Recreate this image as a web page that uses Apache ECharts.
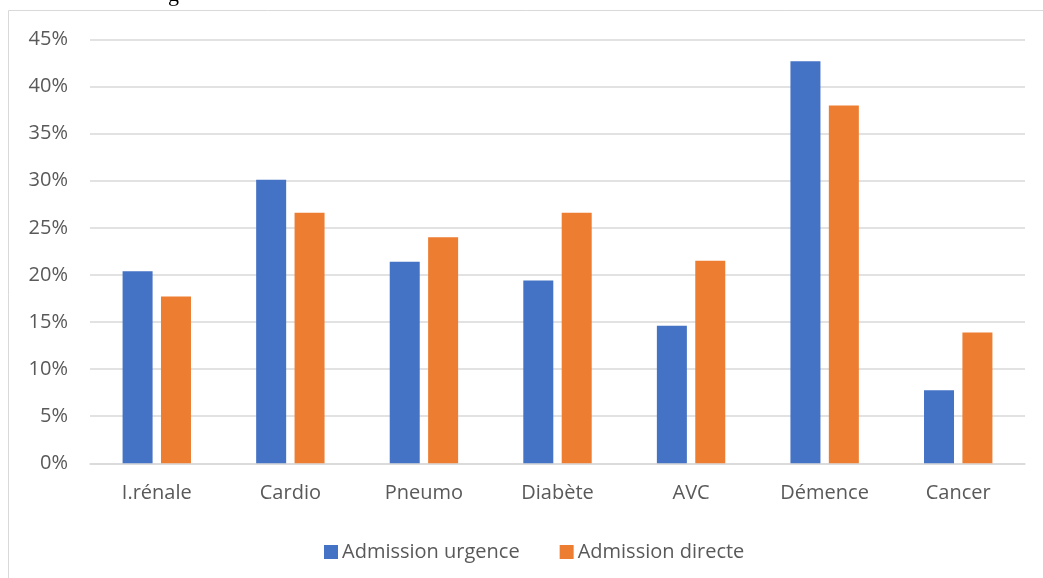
<!DOCTYPE html>
<html>
<head>
<meta charset="utf-8">
<script src="https://cdn.jsdelivr.net/npm/echarts@6/dist/echarts.min.js"></script>
<style>
html,body{margin:0;padding:0;background:#fff;}
#chart{width:1043px;height:578px;}
</style>
</head>
<body>
<div id="chart"></div>
<script>
const categories = ['I.rénale', 'Cardio', 'Pneumo', 'Diabète', 'AVC', 'Démence', 'Cancer'];
const urgence = [20.4, 30.1, 21.4, 19.4, 14.6, 42.7, 7.75];
const directe = [17.7, 26.6, 24.0, 26.6, 21.5, 38.0, 13.9];
const seriesNames = ['Admission urgence', 'Admission directe'];
const yTicks = {min: 0, max: 45, interval: 5};

const chart = echarts.init(document.getElementById('chart'), null, {renderer: 'canvas'});
const font = '"Open Sans", "Noto Sans", sans-serif';
chart.setOption({
  animation: false,
  backgroundColor: '#ffffff',
  textStyle: {fontFamily: font},
  graphic: [
    {type: 'rect', silent: true, z: -1,
     shape: {x: 8.5, y: 10.5, width: 1100, height: 620},
     style: {fill: 'none', stroke: '#d9d9d9', lineWidth: 1}},
    {type: 'text', silent: true, left: 168, top: -16,
     style: {text: 'g', font: '22px "Liberation Serif", serif', fill: '#000'}}
  ],
  grid: {left: 90, right: 18, top: 39.5, bottom: 114.7, containLabel: false},
  legend: {
    data: seriesNames,
    left: 319, top: 537,
    itemWidth: 14, itemHeight: 14, itemGap: 40,
    icon: 'rect',
    textStyle: {color: '#595959', fontSize: 20, fontFamily: font, padding: [0, 0, 0, -1]}
  },
  xAxis: {
    type: 'category',
    data: categories,
    axisLine: {lineStyle: {color: '#d9d9d9', width: 1.5}},
    axisTick: {show: false},
    axisLabel: {color: '#595959', fontSize: 20, fontFamily: font, margin: 20}
  },
  yAxis: {
    type: 'value',
    min: yTicks.min, max: yTicks.max, interval: yTicks.interval,
    axisLine: {show: false},
    axisTick: {show: false},
    axisLabel: {color: '#595959', fontSize: 20, fontFamily: font, margin: 22, formatter: '{value}%'},
    splitLine: {lineStyle: {color: '#d9d9d9', width: 1.5}}
  },
  series: [
    {name: seriesNames[0], type: 'bar', data: urgence, barWidth: 30, barGap: '28%',
     itemStyle: {color: '#4472C4'}},
    {name: seriesNames[1], type: 'bar', data: directe, barWidth: 30, barGap: '28%',
     itemStyle: {color: '#ED7D31'}}
  ]
});
</script>
</body>
</html>
